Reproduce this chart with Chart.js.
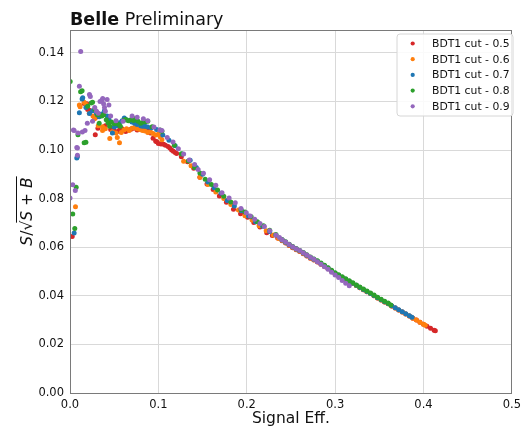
<!DOCTYPE html>
<html>
<head>
<meta charset="utf-8">
<script src="https://cdn.jsdelivr.net/npm/chart.js"></script>
<style>
  html, body { margin: 0; padding: 0; background: #ffffff; }
  #c { display: block; }
</style>
</head>
<body>
<canvas id="c" width="526" height="427"></canvas>
<script>
// ---------------- data ----------------
const seriesLabels = ['BDT1 cut - 0.5', 'BDT1 cut - 0.6', 'BDT1 cut - 0.7', 'BDT1 cut - 0.8', 'BDT1 cut - 0.9'];
const xTicks = [0.0, 0.1, 0.2, 0.3, 0.4, 0.5];
const yTicks = [0.00, 0.02, 0.04, 0.06, 0.08, 0.10, 0.12, 0.14];
const titleBold = 'Belle';
const titleRest = ' Preliminary';
const xTitle = 'Signal Eff.';

const cut05 = [
  [0.0025,0.0644],[0.016,0.1192],[0.019,0.1190],[0.020,0.1167],[0.022,0.1164],[0.0286,0.1063],[0.029,0.1134],
  [0.0316,0.1090],[0.040,0.1100],[0.046,0.1085],[0.050,0.1078],[0.053,0.1075],[0.056,0.1082],[0.059,0.1088],
  [0.063,0.1076],[0.066,0.1082],[0.069,0.1086],[0.072,0.1090],[0.076,0.1082],[0.079,0.1088],[0.082,0.1094],
  [0.085,0.1096],[0.088,0.1088],[0.091,0.1070],[0.094,0.1048],[0.097,0.1036],[0.0983,0.1034],[0.100,0.1027],
  [0.103,0.1025],[0.106,0.1024],[0.108,0.1020],[0.111,0.1015],[0.113,0.1008],[0.115,0.1000],[0.117,0.0995],
  [0.119,0.0990],[0.1207,0.0986],
  [0.126,0.0972],[0.133,0.0952],[0.140,0.0925],[0.147,0.0888],[0.155,0.0860],[0.162,0.0838],[0.169,0.0811],
  [0.177,0.0785],[0.185,0.0756],[0.193,0.0738],[0.201,0.0723],[0.208,0.0702],[0.215,0.0683],[0.2226,0.0660],
  [0.229,0.0648],[0.235,0.0638],
  [0.240,0.0627],[0.244,0.0617],[0.248,0.0607],[0.252,0.0598],[0.256,0.0590],[0.260,0.0582],[0.264,0.0573],
  [0.268,0.0564],[0.272,0.0555],[0.276,0.0547],[0.280,0.0539],[0.284,0.0530],[0.288,0.0521],[0.292,0.0511],
  [0.296,0.0501],[0.300,0.0491],[0.304,0.0483],[0.308,0.0475],[0.312,0.0467],[0.316,0.0459],[0.320,0.0451],
  [0.324,0.0442],[0.328,0.0433],[0.332,0.0425],[0.336,0.0417],[0.340,0.0409],[0.344,0.0400],[0.348,0.0391],
  [0.352,0.0383],[0.356,0.0375],[0.360,0.0367],[0.364,0.0358],[0.368,0.0350],[0.372,0.0342],[0.376,0.0333],
  [0.380,0.0325],[0.384,0.0317],[0.388,0.0308],[0.392,0.0300],[0.396,0.0291],[0.400,0.0283],[0.404,0.0275],
  [0.408,0.0266],[0.412,0.0258],[0.4134,0.0256]
];

const cut06 = [
  [0.0062,0.0767],[0.0106,0.1185],[0.0114,0.1178],[0.016,0.1197],[0.018,0.1188],[0.0218,0.1151],[0.026,0.1140],
  [0.0278,0.1129],[0.032,0.1100],[0.0368,0.1096],[0.0368,0.1080],[0.040,0.1088],[0.045,0.1047],[0.048,0.1075],
  [0.052,0.1070],[0.0535,0.1052],[0.056,0.1030],[0.058,0.1072],[0.061,0.1082],[0.064,0.1088],[0.067,0.1080],
  [0.070,0.1090],[0.073,0.1093],[0.076,0.1088],[0.079,0.1085],[0.082,0.1080],[0.085,0.1078],[0.088,0.1072],
  [0.091,0.1075],[0.094,0.1068],[0.097,0.1062],[0.100,0.1065],[0.102,0.1055],[0.104,0.1042],
  [0.1286,0.0954],[0.137,0.0935],[0.147,0.0888],[0.156,0.0858],[0.165,0.0827],[0.174,0.0800],[0.182,0.0776],
  [0.1906,0.0753],[0.198,0.0730],[0.206,0.0712],[0.214,0.0688],[0.222,0.0668],[0.230,0.0650],[0.236,0.0636],
  [0.240,0.0628],[0.244,0.0618],[0.248,0.0608],[0.252,0.0599],[0.256,0.0591],[0.260,0.0583],[0.264,0.0574],
  [0.268,0.0565],[0.272,0.0556],[0.276,0.0548],[0.280,0.0540],[0.284,0.0531],[0.288,0.0522],[0.292,0.0512],
  [0.296,0.0502],[0.300,0.0492],[0.304,0.0484],[0.308,0.0475],[0.312,0.0467],[0.316,0.0459],[0.320,0.0451],
  [0.324,0.0442],[0.328,0.0433],[0.332,0.0425],[0.336,0.0417],[0.340,0.0409],[0.344,0.0400],[0.348,0.0391],
  [0.352,0.0383],[0.356,0.0375],[0.360,0.0367],[0.364,0.0358],[0.368,0.0350],[0.372,0.0342],[0.376,0.0333],
  [0.380,0.0325],[0.384,0.0317],[0.388,0.0308],[0.392,0.0300],[0.396,0.0291],[0.400,0.0283],[0.402,0.0279]
];

const cut07 = [
  [0.0047,0.0658],[0.0077,0.0967],[0.0084,0.0973],[0.0106,0.1153],[0.0137,0.1210],[0.0144,0.1215],[0.018,0.1175],
  [0.022,0.1150],[0.0255,0.1162],[0.030,0.1150],[0.033,0.1137],[0.036,0.1148],[0.039,0.1162],[0.042,0.1140],
  [0.044,0.1126],[0.048,0.1070],[0.050,0.1095],[0.053,0.1100],[0.056,0.1112],[0.059,0.1120],[0.0614,0.1132],
  [0.064,0.1125],[0.0685,0.1123],[0.070,0.1115],[0.073,0.1110],[0.076,0.1105],[0.080,0.1100],[0.082,0.1098],
  [0.085,0.1098],[0.088,0.1095],[0.092,0.1092],[0.098,0.1085],[0.105,0.1062],[0.112,0.1040],[0.119,0.1018],
  [0.127,0.0984],[0.136,0.0958],[0.143,0.0928],[0.150,0.0900],[0.156,0.0868],[0.163,0.0845],[0.171,0.0822],
  [0.178,0.0792],[0.186,0.0770],[0.194,0.0750],[0.202,0.0728],[0.210,0.0705],[0.218,0.0686],[0.226,0.0665],
  [0.233,0.0650],
  [0.240,0.0630],[0.244,0.0620],[0.248,0.0610],[0.252,0.0601],[0.256,0.0593],[0.260,0.0585],[0.264,0.0576],
  [0.268,0.0567],[0.272,0.0558],[0.276,0.0550],[0.280,0.0542],[0.284,0.0533],[0.288,0.0524],[0.292,0.0514],
  [0.296,0.0503],[0.300,0.0493],[0.304,0.0485],[0.308,0.0476],[0.312,0.0468],[0.316,0.0460],[0.320,0.0452],
  [0.324,0.0443],[0.328,0.0434],[0.332,0.0426],[0.336,0.0418],[0.340,0.0410],[0.344,0.0401],[0.348,0.0392],
  [0.352,0.0384],[0.356,0.0376],[0.360,0.0368],[0.364,0.0359],[0.368,0.0351],[0.372,0.0343],[0.376,0.0334],
  [0.380,0.0326],[0.384,0.0318],[0.387,0.0312]
];

const cut08 = [
  [0.0002,0.1282],[0.0031,0.0737],[0.0054,0.0677],[0.007,0.0847],[0.009,0.1063],[0.012,0.1240],[0.0137,0.1244],
  [0.016,0.1030],[0.018,0.1032],[0.020,0.1180],[0.024,0.1194],[0.0255,0.1197],[0.028,0.1168],[0.031,0.1145],
  [0.033,0.1110],[0.036,0.1140],[0.038,0.1145],[0.041,0.1125],[0.043,0.1112],[0.045,0.1098],[0.047,0.1115],
  [0.050,0.1108],[0.052,0.1112],[0.055,0.1105],[0.057,0.1098],[0.061,0.1123],[0.063,0.1126],[0.066,0.1120],
  [0.069,0.1125],[0.072,0.1122],[0.074,0.1130],[0.077,0.1118],[0.080,0.1110],[0.083,0.1115],[0.085,0.1116],
  [0.088,0.1118],[0.093,0.1096],[0.102,0.1082],[0.104,0.1077],
  [0.118,0.1020],[0.126,0.0985],[0.134,0.0955],[0.141,0.0928],[0.147,0.0905],[0.153,0.0880],[0.160,0.0858],
  [0.167,0.0835],[0.174,0.0810],[0.182,0.0786],[0.1935,0.0755],[0.198,0.0745],[0.205,0.0725],[0.212,0.0705],
  [0.219,0.0688],[0.226,0.0670],[0.233,0.0652],
  [0.240,0.0632],[0.244,0.0622],[0.248,0.0612],[0.252,0.0603],[0.256,0.0595],[0.260,0.0587],[0.264,0.0578],
  [0.268,0.0569],[0.272,0.0560],[0.276,0.0552],[0.280,0.0544],[0.284,0.0535],[0.288,0.0526],[0.292,0.0516],
  [0.296,0.0505],[0.300,0.0495],[0.304,0.0487],[0.308,0.0478],[0.312,0.0470],[0.316,0.0462],[0.320,0.0454],
  [0.324,0.0445],[0.328,0.0436],[0.332,0.0428],[0.336,0.0420],[0.340,0.0412],[0.344,0.0403],[0.348,0.0394],
  [0.352,0.0386],[0.356,0.0378],[0.360,0.0370],[0.363,0.0362]
];

const cut09 = [
  [0.0,0.0803],[0.0031,0.0857],[0.0039,0.1082],[0.0047,0.1080],[0.006,0.0833],[0.0077,0.1010],[0.0084,0.0978],
  [0.0084,0.1008],[0.009,0.1070],[0.0106,0.1263],[0.0121,0.1406],[0.014,0.1074],[0.017,0.1080],[0.0196,0.1110],
  [0.022,0.1229],[0.023,0.1220],[0.0255,0.1118],[0.028,0.1175],[0.030,0.1160],[0.032,0.1151],[0.034,0.1200],
  [0.036,0.1205],[0.037,0.1212],[0.038,0.1190],[0.039,0.1175],[0.040,0.1160],[0.042,0.1208],[0.044,0.1185],
  [0.046,0.1140],[0.052,0.1120],[0.060,0.1118],[0.0703,0.1140],[0.076,0.1135],[0.083,0.1129],[0.088,0.1120],
  [0.095,0.1095],[0.1017,0.1082],[0.104,0.1080],[0.110,0.1052],[0.1166,0.1033],[0.1226,0.1005],[0.1286,0.0984],
  [0.135,0.0959],[0.141,0.0940],[0.145,0.0920],[0.151,0.0904],[0.158,0.0878],[0.165,0.0855],[0.172,0.0824],
  [0.180,0.0803],[0.187,0.0783],[0.1935,0.0759],[0.1995,0.0742],[0.204,0.0728],[0.209,0.0715],[0.215,0.0698],
  [0.220,0.0685],[0.226,0.0668],[0.233,0.0650],[0.237,0.0640],
  [0.240,0.0631],[0.244,0.0621],[0.248,0.0611],[0.252,0.0602],[0.256,0.0594],[0.260,0.0586],[0.264,0.0577],
  [0.268,0.0568],[0.272,0.0559],[0.276,0.0550],[0.280,0.0540],[0.284,0.0530],[0.288,0.0520],[0.292,0.0509],
  [0.296,0.0497],[0.300,0.0486],[0.304,0.0475],[0.308,0.0463],[0.312,0.0452],[0.316,0.0441]
];

const seriesData = [cut05, cut06, cut07, cut08, cut09];
const seriesColors = ['#d62728', '#ff7f0e', '#1f77b4', '#2ca02c', '#9467bd'];

// ---------------- chart ----------------
const FONT = '"DejaVu Sans", "Liberation Sans", sans-serif';

const decorations = {
  id: 'decorations',
  afterDatasetsDraw(chart) {
    const ctx = chart.ctx, a = chart.chartArea;
    ctx.save();
    ctx.strokeStyle = '#7a7a7a';
    ctx.lineWidth = 1;
    ctx.strokeRect(Math.round(a.left) + 0.5, Math.round(a.top) + 0.5,
                   Math.round(a.right - a.left) - 1, Math.round(a.bottom - a.top));
    ctx.restore();
  },
  afterDraw(chart) {
    const ctx = chart.ctx, a = chart.chartArea;
    ctx.save();
    ctx.fillStyle = '#111';
    // Title
    ctx.textAlign = 'left';
    ctx.textBaseline = 'alphabetic';
    ctx.font = 'bold 17.5px ' + FONT;
    ctx.fillText(titleBold, a.left, 25);
    const wb = ctx.measureText(titleBold).width;
    ctx.font = '17.5px ' + FONT;
    ctx.fillText(titleRest, a.left + wb, 25);

    // x-axis title
    ctx.textAlign = 'center';
    ctx.font = '15.5px ' + FONT;
    ctx.fillText(xTitle, (a.left + a.right) / 2, 423);

    // y-axis title: S/√(S+B)
    const fs = 15.5;
    const pieces = [
      ['S', 'italic'], ['/', 'normal'], ['\u221A', 'normal'], ['S', 'italic'], [' + ', 'normal'], ['B', 'italic']
    ];
    ctx.save();
    ctx.translate(32, (a.top + a.bottom) / 2);
    ctx.rotate(-Math.PI / 2);
    ctx.textAlign = 'left';
    let total = 0;
    const widths = pieces.map(p => { ctx.font = p[1] + ' ' + fs + 'px ' + FONT; const w = ctx.measureText(p[0]).width; total += w; return w; });
    let x = -total / 2, overStart = 0;
    pieces.forEach((p, i) => {
      ctx.font = p[1] + ' ' + fs + 'px ' + FONT;
      ctx.fillText(p[0], x, 0);
      if (i === 2) overStart = x + widths[i] * 0.8;
      x += widths[i];
    });
    ctx.strokeStyle = '#111';
    ctx.lineWidth = 1;
    ctx.beginPath();
    ctx.moveTo(overStart, -fs * 1.0);
    ctx.lineTo(x + 1, -fs * 1.0);
    ctx.stroke();
    ctx.restore();

    // Legend
    const bx = 397, by = 34, bw = 116, bh = 82, r = 3;
    ctx.beginPath();
    ctx.moveTo(bx + r, by);
    ctx.lineTo(bx + bw - r, by); ctx.quadraticCurveTo(bx + bw, by, bx + bw, by + r);
    ctx.lineTo(bx + bw, by + bh - r); ctx.quadraticCurveTo(bx + bw, by + bh, bx + bw - r, by + bh);
    ctx.lineTo(bx + r, by + bh); ctx.quadraticCurveTo(bx, by + bh, bx, by + bh - r);
    ctx.lineTo(bx, by + r); ctx.quadraticCurveTo(bx, by, bx + r, by);
    ctx.closePath();
    ctx.fillStyle = 'rgba(255,255,255,0.85)';
    ctx.fill();
    ctx.strokeStyle = '#d6d6d6';
    ctx.stroke();
    ctx.font = '10.8px ' + FONT;
    ctx.textBaseline = 'middle';
    ctx.textAlign = 'left';
    chart.data.datasets.forEach((ds, i) => {
      const y = 43.5 + i * 15.7;
      ctx.fillStyle = ds.backgroundColor;
      ctx.beginPath();
      ctx.arc(412.7, y, 2.1, 0, Math.PI * 2);
      ctx.fill();
      ctx.fillStyle = '#111';
      ctx.fillText(ds.label, 432, y + 0.5);
    });
    ctx.restore();
  }
};

const datasets = seriesData.map((d, i) => ({
  label: seriesLabels[i],
  data: d.map(p => ({ x: p[0], y: p[1] })),
  backgroundColor: seriesColors[i],
  borderColor: seriesColors[i],
  borderWidth: 0,
  pointRadius: 2.5,
  pointHoverRadius: 2.5,
  order: seriesData.length - 1 - i
}));

new Chart(document.getElementById('c'), {
  type: 'scatter',
  data: { datasets },
  options: {
    responsive: false,
    animation: false,
    devicePixelRatio: 1,
    events: [],
    layout: { padding: { top: 30, right: 9, left: 0, bottom: 0 } },
    plugins: { legend: { display: false }, tooltip: { enabled: false }, title: { display: false } },
    scales: {
      x: {
        type: 'linear', min: 0, max: 0.5,
        afterBuildTicks: s => { s.ticks = xTicks.map(v => ({ value: v })); },
        afterFit: s => { s.height = 34; },
        border: { display: false },
        grid: { color: '#d9d9d9', lineWidth: 1, drawTicks: false },
        ticks: { padding: 5, color: '#111', font: { family: FONT, size: 11.5 }, maxRotation: 0, autoSkip: false,
                 callback: v => Number(v).toFixed(1) }
      },
      y: {
        type: 'linear', min: 0, max: 0.1494,
        afterBuildTicks: s => { s.ticks = yTicks.map(v => ({ value: v })); },
        afterFit: s => { s.width = 70; },
        border: { display: false },
        grid: { color: '#d9d9d9', lineWidth: 1, drawTicks: false },
        ticks: { padding: 6, color: '#111', font: { family: FONT, size: 11.5 }, autoSkip: false,
                 callback: v => Number(v).toFixed(2) }
      }
    }
  },
  plugins: [decorations]
});
</script>
</body>
</html>
